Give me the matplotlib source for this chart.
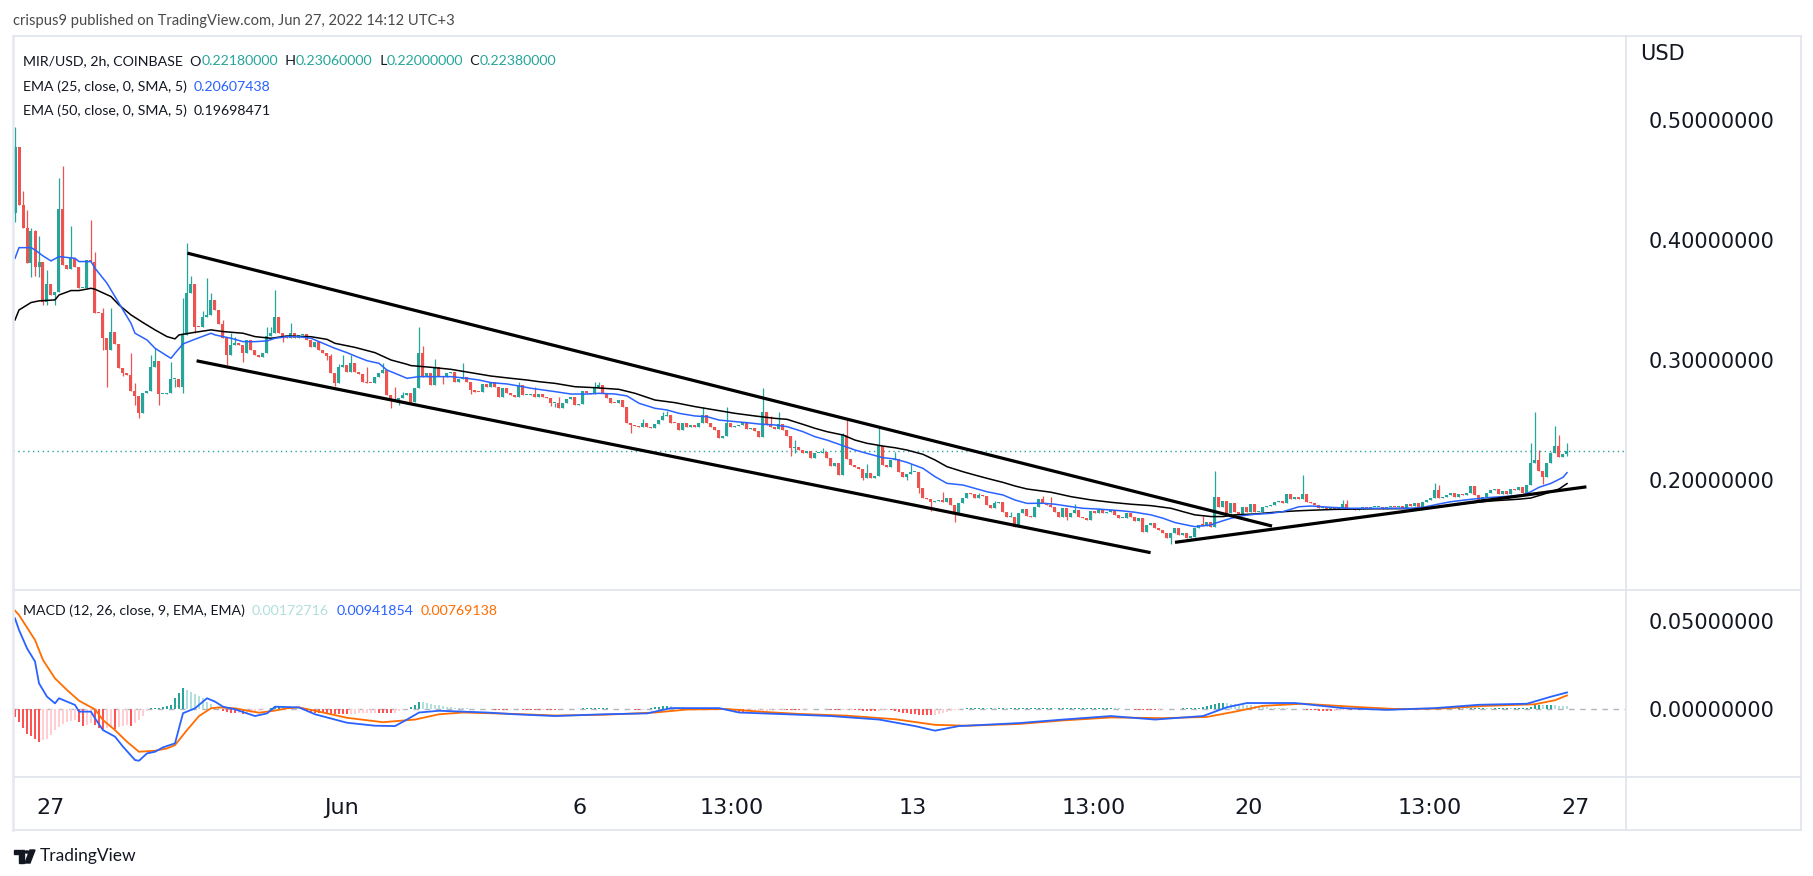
import matplotlib
matplotlib.use("Agg")
import matplotlib.pyplot as plt
from matplotlib.lines import Line2D
from matplotlib.patches import Polygon, Circle
import numpy as np

# ---------------- DATA ----------------
first_open = 0.4225
close_w1 = [.4780, .4294, .4100, .3808, .4077, .3780, .3822, .3488, .3635, .3543,
            .3569, .4258, .3794, .3758, .3850, .3780, .3599, .3599, .3835, .3822,
            .3396, .3390, .3182, .3085, .3235, .3135, .2932, .2890, .2876, .2746,
            .2701, .2562, .2723, .2740, .2940, .2996, .2718, .2718, .2729, .2840,
            .2840, .2774, .3210, .3557, .3635, .3279, .3274, .3357, .3377, .3502,
            .3418, .3302, .3182, .3043, .3127, .3140, .3127, .3057, .3168, .3085,
            .3040, .3029, .3057]
close_w2 = [.3201, .3223, .3357, .3229, .3201, .3182, .3223, .3182, .3210, .3218,
            .3168, .3112, .3154, .3084, .3056, .3034, .2890, .2806, .2940, .2960,
            .2904, .2973, .2904, .2884, .2820, .2812, .2806, .2862, .2895, .2918,
            .2709, .2667, .2662, .2681, .2709, .2723, .2653, .2765, .3056, .2862,
            .2895, .2792, .2940, .2867, .2862, .2889, .2904, .2820,
            .2840, .2862, .2820, .2751, .2737, .2731, .2801, .2773, .2820, .2778, .2695,
            .2765, .2723, .2709, .2695, .2792, .2709]
close_w3 = [.2709, .2718, .2695, .2717, .2689, .2681, .2640, .2645, .2598, .2645,
            .2673, .2695, .2626, .2634, .2745, .2723, .2717, .2765, .2792, .2723,
            .2681, .2645, .2640, .2667, .2612, .2478, .2459, .2450, .2439, .2473,
            .2445, .2431, .2464, .2500, .2534, .2542, .2478, .2473, .2417, .2478,
            .2445, .2459, .2445, .2478, .2542, .2478, .2439, .2417, .2348, .2367,
            .2473, .2439, .2450, .2459, .2486, .2422, .2431, .2411, .2356, .2570,
            .2459, .2445, .2422, .2464]
close_w4 = [.2417, .2369, .2264, .2278, .2250, .2222, .2242, .2186, .2222, .2228,
            .2236, .2186, .2119, .2139, .2041, .2375, .2175, .2125, .2111, .2091,
            .2014, .2055, .2019, .2036, .2283, .2125, .2111, .2167, .2175, .2064,
            .2028, .2047, .2064, .2064, .1930, .1847, .1841, .1819, .1825, .1833,
            .1819, .1847, .1791, .1722, .1805, .1847, .1894, .1880, .1847, .1875,
            .1866, .1791, .1769, .1805, .1819, .1736, .1694, .1694, .1611, .1722,
            .1758, .1702, .1694, .1777]
close_w5 = [.1842, .1806, .1792, .1778, .1736, .1695, .1770, .1695, .1722, .1750,
            .1695, .1681, .1667, .1742, .1722, .1750, .1722, .1736, .1750, .1709,
            .1686, .1686, .1722, .1695, .1659, .1686, .1564, .1625, .1639, .1603,
            .1584, .1556, .1514, .1556, .1597, .1542, .1556, .1520, .1528, .1597,
            .1625, .1620, .1653, .1611, .1861, .1778, .1825, .1722, .1806, .1736,
            .1714, .1778, .1736, .1798, .1731, .1731, .1778, .1785, .1790, .1820,
            .1825, .1806, .1881]
close_w6 = [.1839, .1861, .1839, .1883, .1819, .1805, .1791, .1764, .1772, .1755,
            .1768, .1758, .1766, .1800, .1755, .1760, .1750, .1762, .1768, .1764,
            .1772, .1775, .1777, .1760, .1772, .1783, .1772, .1783, .1764, .1800,
            .1783, .1805, .1778, .1819, .1833, .1847, .1916, .1847, .1861, .1872,
            .1889, .1861, .1883, .1878, .1890, .1950, .1875, .1827, .1855, .1889,
            .1916, .1922, .1883, .1911, .1883, .1922, .1916, .1944, .1889, .1958,
            .2139, .2167, .2078, .2028, .2144, .2222, .2283, .2189, .2218, .2238]

# notable wick extremes {bar: price}
wick_high = {0: .4947, 1: .4780, 2: .4414, 3: .4250, 4: .4100, 5: .4086, 6: .4036, 7: .3820,
             8: .3752, 11: .4517, 12: .4620, 14: .4119, 19: .4169, 20: .3905, 22: .3432,
             24: .3432, 29: .3057, 30: .2807, 34: .3043, 35: .3099, 39: .2987, 42: .3516,
             43: .3974, 44: .3702, 47: .3413, 48: .3682, 49: .3557, 52: .3335, 54: .3224,
             55: .3196, 63: .3279, 64: .3279, 65: .3585, 66: .3357, 69: .3307, 79: .3050,
             81: .2968, 82: .3043, 84: .3043, 88: .2940, 92: .2979, 95: .2778, 97: .2737,
             101: .3279, 102: .3118, 105: .3007, 112: .2973, 126: .2820, 130: .2778,
             136: .2695, 145: .2820, 146: .2820, 157: .2506, 162: .2570, 163: .2578,
             172: .2606, 178: .2606, 187: .2765, 189: .2534, 191: .2570, 195: .2333,
             202: .2264, 207: .2389, 208: .2500, 213: .2130, 216: .2436, 220: .2236,
             224: .2130, 232: .1900, 241: .1889, 245: .1825, 249: .1736, 257: .1870,
             259: .1861, 265: .1798, 271: .1770, 297: .1703, 300: .2076, 322: .2042,
             332: .1833, 333: .1833, 355: .1972, 356: .1958, 379: .2311, 380: .2570,
             381: .2250, 384: .2236, 385: .2450, 386: .2375, 388: .2306}
wick_low = {0: .4155, 4: .3690, 5: .3700, 6: .3696, 7: .3460, 8: .3460, 10: .3460, 22: .3085,
            23: .2779, 27: .2868, 30: .2626, 31: .2521, 32: .2557, 36: .2626, 40: .2774,
            42: .2723, 45: .3224, 53: .2960, 57: .2987, 67: .3148, 78: .3000, 80: .2780,
            94: .2598, 96: .2625, 107: .2800, 114: .2717, 134: .2617, 135: .2612,
            154: .2395, 194: .2203, 195: .2222, 212: .2003, 223: .2000, 226: .1889,
            229: .1741, 235: .1652, 263: .1667, 289: .1464, 293: .1514, 382: .1966,
            388: .2200}

# EMA 25 (blue): bar index, value
ema25_bar = [0, 1, 4, 5, 7, 9, 11, 15, 16, 19, 20, 23, 25, 27, 29, 30, 33, 35, 38, 39, 40, 42,
             45, 49, 50, 54, 57, 60, 63, 65, 68, 71, 74, 78, 80, 83, 85, 88, 91, 93, 96, 98,
             101, 104, 109, 113, 116, 119, 123, 126, 129, 135, 139, 143, 146, 150, 153, 156,
             160, 163, 166, 170, 173, 176, 180, 183, 186, 190, 193, 197, 200, 203, 207, 210,
             213, 217, 220, 223, 227, 230, 233, 237, 240, 243, 247, 250, 253, 257, 260, 264,
             267, 270, 274, 277, 280, 284, 287, 290, 294, 295, 299, 300, 304, 307, 310, 314,
             317, 321, 324, 329, 334, 339, 344, 349, 352, 356, 359, 364, 369, 374, 377, 379,
             381, 384, 387, 388]
ema25_val = [.3849, .3938, .3938, .3919, .3869, .3827, .3863, .3849, .3822, .3822, .3766, .3641,
             .3530, .3418, .3307, .3224, .3168, .3099, .3035, .3015, .3057, .3135, .3174, .3224,
             .3210, .3182, .3154, .3154, .3160, .3182, .3195, .3195, .3182, .3126, .3098, .3062,
             .3034, .2995, .2973, .2917, .2876, .2848, .2862, .2862, .2862, .2848, .2834, .2812,
             .2801, .2784, .2765, .2737, .2717, .2717, .2723, .2717, .2701, .2640, .2598, .2584,
             .2556, .2534, .2528, .2500, .2487, .2478, .2467, .2459, .2445, .2403, .2361, .2333,
             .2286, .2250, .2222, .2186, .2175, .2147, .2097, .2028, .1972, .1958, .1930, .1902,
             .1875, .1833, .1805, .1806, .1798, .1778, .1764, .1759, .1750, .1742, .1731, .1709,
             .1681, .1645, .1617, .1611, .1625, .1639, .1681, .1703, .1714, .1722, .1736, .1777,
             .1783, .1772, .1764, .1764, .1764, .1764, .1772, .1800, .1819, .1839, .1855, .1866,
             .1875, .1903, .1939, .1972, .2022, .2061]

# EMA 50 (black)
ema50_bar = [0, 1, 4, 6, 10, 11, 14, 16, 19, 20, 24, 26, 29, 32, 35, 38, 40, 41, 45, 49, 52, 57,
             60, 64, 68, 74, 78, 80, 85, 90, 94, 98, 99, 104, 109, 114, 119, 124, 128, 131, 135,
             140, 145, 151, 155, 160, 165, 170, 175, 180, 185, 190, 193, 197, 200, 203, 207, 210,
             213, 217, 220, 223, 227, 230, 233, 237, 240, 243, 247, 250, 253, 259, 264, 269, 274,
             279, 284, 289, 292, 295, 299, 302, 305, 310, 315, 319, 322, 330, 340, 350, 354, 359,
             364, 369, 376, 379, 382, 386, 388]
ema50_val = [.3335, .3418, .3480, .3494, .3502, .3543, .3580, .3580, .3599, .3591, .3530, .3460,
             .3377, .3313, .3252, .3196, .3177, .3210, .3232, .3252, .3238, .3224, .3196, .3182,
             .3201, .3195, .3173, .3140, .3106, .3062, .3001, .2965, .2954, .2940, .2923, .2895,
             .2867, .2848, .2834, .2820, .2806, .2778, .2770, .2756, .2723, .2667, .2645, .2612,
             .2584, .2556, .2534, .2514, .2506, .2464, .2431, .2403, .2375, .2333, .2306, .2283,
             .2269, .2250, .2214, .2167, .2111, .2069, .2041, .2014, .1980, .1950, .1925, .1898,
             .1861, .1834, .1814, .1798, .1786, .1764, .1736, .1709, .1695, .1695, .1709, .1717,
             .1731, .1740, .1745, .1755, .1760, .1762, .1770, .1790, .1810, .1825, .1840, .1850,
             .1880, .1925, .1970]

# trend-line drawings: (bar, price) end points
channel_top = [(43.1, .3892), (314.25, .1616)]
channel_bottom = [(45.4, .2994), (283.9, .1394)]
support_line = [(290.0, .1480), (392.85, .1943)]
last_close = 0.2238

# MACD line (blue) and signal (orange)
macd_bar = [0, 1, 3, 5, 6, 8, 10, 11, 13, 15, 16, 19, 20, 22, 25, 27, 30, 31, 33, 35, 37, 40,
            42, 45, 48, 50, 52, 55, 60, 63, 65, 71, 75, 83, 90, 95, 98, 101, 106, 112, 118, 125,
            135, 147, 158, 164, 176, 181, 193, 204, 216, 225, 230, 236, 251, 262, 274, 285, 297,
            303, 308, 320, 332, 343, 355, 366, 378, 384, 388]
macd_val = [.0515, .0449, .0345, .0270, .0146, .0070, .0032, .0061, .0042, .0023, -.0015, -.0015,
            -.0053, -.0120, -.0157, -.0214, -.0290, -.0294, -.0252, -.0243, -.0218, -.0195,
            -.0024, .0004, .0061, .0042, .0013, -.0002, -.0040, -.0025, .0013, .0009, -.0030,
            -.0078, -.0095, -.0097, -.0060, -.0020, -.0010, -.0015, -.0020, -.0030, -.0040,
            -.0030, -.0025, .0005, .0005, -.0020, -.0030, -.0040, -.0060, -.0097, -.0123,
            -.0097, -.0080, -.0060, -.0040, -.0060, -.0040, .0010, .0034, .0034, .0005, -.0005,
            .0005, .0024, .0030, .0070, .0094]
signal_bar = [0, 1, 5, 7, 10, 13, 16, 20, 22, 25, 28, 31, 35, 38, 40, 43, 46, 49, 51, 55, 58,
              61, 65, 68, 71, 75, 83, 92, 100, 106, 112, 125, 135, 147, 160, 168, 178, 186, 196,
              208, 220, 230, 238, 251, 262, 274, 287, 298, 305, 312, 322, 335, 345, 356, 368,
              380, 385, 388]
signal_val = [.0559, .0534, .0392, .0278, .0174, .0108, .0047, -.0002, -.0063, -.0120, -.0186,
              -.0243, -.0237, -.0224, -.0205, -.0120, -.0040, .0004, .0009, .0004, -.0009, -.0021,
              -.0009, .0004, .0009, -.0010, -.0050, -.0075, -.0060, -.0030, -.0020, -.0028,
              -.0037, -.0033, -.0020, -.0003, .0000, -.0015, -.0028, -.0038, -.0058, -.0090,
              -.0095, -.0085, -.0065, -.0048, -.0052, -.0045, -.0015, .0018, .0030, .0012, .0000,
              .0002, .0018, .0027, .0050, .0077]

# MACD histogram, one value per bar
hist_w1 = [-.0045, -.0074, -.0106, -.0144, -.0153, -.0168, -.0187, -.0178, -.0168, -.0150,
           -.0121, -.0102, -.0085, -.0075, -.0068, -.0060, -.0075, -.0095, -.0090, -.0080,
           -.0090, -.0110, -.0112, -.0110, -.0105, -.0112, -.0100, -.0095, -.0090, -.0095,
           -.0080, -.0060, -.0040, -.0010, .0003, .0005, .0008, .0012, .0018, .0025,
           .0060, .0093, .0118, .0108, .0098, .0085, .0074, .0060, .0042, .0028,
           .0013, .0004, -.0010, -.0015, -.0020, -.0025, -.0020, -.0030, -.0025, -.0020,
           -.0015]
hist_w2 = [-.0010, -.0005, .0000, .0008, .0015, .0016, .0012, .0008, .0005, .0002,
           .0000, -.0008, -.0014, -.0018, -.0020, -.0022, -.0024, -.0026, -.0027, -.0028,
           -.0028, -.0028, -.0028, -.0027, -.0026, -.0025, -.0024, -.0023, -.0022, -.0021,
           -.0021, -.0021, -.0022, -.0022, -.0021, -.0012, -.0004, .0002, .0012, .0025,
           .0040, .0038, .0034, .0030, .0025, .0020, .0016, .0012, .0010, .0007,
           .0005, .0004, .0003, .0002, .0001, .0000, -.0001, -.0002, -.0002, -.0003,
           -.0003, -.0003, -.0003, -.0002, -.0002]
hist_w3 = [-.0002, -.0003, -.0004, -.0004, -.0004, -.0004, -.0003, -.0003, -.0003, -.0003,
           -.0002, -.0001, .0000, .0001, .0002, .0002, .0003, .0003, .0003, .0003, .0003, .0003,
           .0003, .0002, .0002, .0001, .0000, -.0001, -.0002, -.0003, -.0004, -.0003, -.0001,
           .0004, .0010, .0014, .0016, .0016, .0015, .0013, .0011, .0009, .0008, .0007, .0006,
           .0005, .0004, .0003, .0002, .0001, .0000, -.0004, -.0008, -.0012, -.0015, -.0017,
           -.0017, -.0016, -.0015, -.0014, -.0013, -.0012, -.0010, -.0008, -.0006]
hist_w4 = [-.0004, -.0003, -.0003, -.0004, -.0005, -.0005, -.0004, -.0003, -.0002, -.0002,
           -.0002, -.0002, -.0002, -.0003, -.0005, -.0007, -.0006, -.0005, -.0004, -.0006,
           -.0008, -.0010, -.0011, -.0012, -.0012,
           -.0010, -.0008, -.0006, -.0008, -.0012, -.0016, -.0020, -.0024, -.0027, -.0030,
           -.0032, -.0033, -.0034, -.0034, -.0033, -.0030, -.0025, -.0019, -.0013, -.0008,
           -.0004, .0000, .0003, .0005, .0006,
           .0007, .0007, .0006, .0006, .0005, .0005, .0005, .0004, .0004, .0005, .0005, .0005,
           .0005, .0005, .0005, .0006, .0006, .0006, .0006, .0005, .0005, .0005]
hist_w5 = [.0005, .0006, .0007, .0008, .0008, .0008, .0008, .0008, .0008, .0008, .0008, .0008,
           .0006, .0004, .0002, .0000, -.0002, -.0004, -.0005, -.0007, -.0008, -.0008, -.0008,
           -.0006, -.0004, -.0002, -.0001, .0001, .0002, .0003, .0004, .0005, .0006, .0007,
           .0009, .0015, .0020, .0030,
           .0032, .0033, .0032, .0030, .0028, .0026, .0024, .0022, .0020, .0017, .0014, .0012,
           .0010, .0008, .0006, .0005, .0004, .0003, .0002, .0001]
hist_w6 = [.0000, -.0002, -.0004, -.0006, -.0008, -.0009, -.0010, -.0010, -.0010, -.0009,
           -.0008, -.0007, -.0006, -.0006, -.0005, -.0005, -.0004, -.0003, -.0002, -.0001,
           .0000, .0001, .0001, .0002, .0002,
           .0003, .0003, .0003, .0003, .0003, .0003, .0004, .0005, .0006, .0007, .0008, .0009,
           .0010, .0009, .0008, .0008, .0007, .0006, .0006, .0006, .0006, .0006, .0005, .0004,
           .0004, .0004, .0004, .0004, .0003, .0003, .0003, .0003, .0003, .0010, .0020, .0022,
           .0020, .0022, .0022, .0020, .0019, .0018, .0017]

time_tick_bar = [9, 81.75, 141.25, 179.25, 224.5, 269.75, 308.5, 353.75, 390.25]
time_tick_label = ["27", "Jun", "6", "13:00", "13", "13:00", "20", "13:00", "27"]
price_ticks = [0.2, 0.3, 0.4, 0.5]
macd_ticks = [0.0, 0.05]

# ---------------- STYLE / LAYOUT ----------------
W, H = 1813, 876
UP, DOWN = "#26A69A", "#EF5350"
TXT = "#131722"
BORDER = "#E0E3EB"

fig = plt.figure(figsize=(W / 100, H / 100), dpi=100)
fig.patch.set_facecolor("white")

L, R = 13, 1626
ax = fig.add_axes([L / W, 1 - 590 / H, (R - L) / W, (590 - 36) / H])
axm = fig.add_axes([L / W, 1 - 777 / H, (R - L) / W, (777 - 590) / H])
xlim = (-0.5, 402.75)
for a in (ax, axm):
    a.set_xlim(*xlim)
    a.set_facecolor("white")
    for s in a.spines.values():
        s.set_visible(False)
ax.set_ylim(0.2 - 110 / 1199, 0.2 + 444 / 1199)
axm.set_ylim(-68 / 1760, 119 / 1760)

# candles
close = np.array(close_w1 + close_w2 + close_w3 + close_w4 + close_w5 + close_w6)
n = len(close)
bars = np.arange(n)
opn = np.concatenate([[first_open], close[:-1]])
hi = np.maximum(opn, close)
lo = np.minimum(opn, close)
for k, v in wick_high.items():
    hi[k] = max(hi[k], v)
for k, v in wick_low.items():
    lo[k] = min(lo[k], v)
up = close >= opn
cols = np.where(up, UP, DOWN)
ax.vlines(bars, lo, hi, colors=cols, lw=0.9, zorder=3)
body_h = np.maximum(np.abs(close - opn), 0.0009)
ax.bar(bars, body_h, bottom=np.minimum(opn, close), width=0.75, color=cols, linewidth=0, zorder=4)

# EMAs
ax.plot(ema50_bar, ema50_val, color="#000000", lw=1.1, zorder=5)
ax.plot(ema25_bar, ema25_val, color="#2962FF", lw=1.1, zorder=5)

# drawings
for seg in (channel_top, channel_bottom, support_line):
    xs, ys = zip(*seg)
    ax.plot(xs, ys, color="black", lw=2.3, solid_capstyle="butt", zorder=6)
ax.axhline(last_close, color=UP, lw=1.0, ls=(0, (1, 2.5)), zorder=2)

# MACD pane
hist = np.array(hist_w1 + hist_w2 + hist_w3 + hist_w4 + hist_w5 + hist_w6)
hb = np.arange(len(hist))
prev = np.concatenate([[hist[0]], hist[:-1]])
hcol = np.where(hist >= 0, np.where(hist >= prev, "#26A69A", "#B2DFDB"),
                np.where(hist <= prev, "#FF5252", "#FFCDD2"))
axm.bar(hb, hist, width=0.6, color=hcol, linewidth=0, zorder=2)
axm.axhline(0, color="#B2B5BE", lw=1, ls=(0, (4, 4)), zorder=1)
axm.plot(signal_bar, signal_val, color="#FF6D00", lw=1.3, zorder=4)
axm.plot(macd_bar, macd_val, color="#2962FF", lw=1.3, zorder=5)

# axes ticks / labels
ax.set_xticks([])
ax.yaxis.tick_right()
ax.set_yticks(price_ticks)
ax.set_yticklabels([f"{v:.8f}" for v in price_ticks])
ax.tick_params(axis="y", length=0, pad=16, labelsize=15, labelcolor=TXT)
axm.yaxis.tick_right()
axm.set_yticks(macd_ticks)
axm.set_yticklabels([f"{v:.8f}" for v in macd_ticks])
axm.tick_params(axis="y", length=0, pad=16, labelsize=15, labelcolor=TXT)
axm.set_xticks(time_tick_bar)
axm.set_xticklabels(time_tick_label)
axm.tick_params(axis="x", length=0, pad=15, labelsize=16, labelcolor=TXT)

# frame lines (figure pixels)
def hline(y, x0, x1, c=BORDER, lw=1.2):
    fig.add_artist(Line2D([x0 / W, x1 / W], [1 - y / H, 1 - y / H], color=c, lw=lw,
                          transform=fig.transFigure))

def vline(x, y0, y1, c=BORDER, lw=1.2):
    fig.add_artist(Line2D([x / W, x / W], [1 - y0 / H, 1 - y1 / H], color=c, lw=lw,
                          transform=fig.transFigure))

hline(36, 13, 1801)
hline(830, 13, 1801)
hline(590, 13, 1801)
hline(777, 13, 1801)
vline(13, 36, 830, c="#E6E8F0", lw=1.8)
vline(1801, 36, 830)
vline(1626, 36, 830)

# texts
renderer = fig.canvas.get_renderer()

def rich(x_px, y_px, parts, size=10.2, family="Lato"):
    x = x_px
    for s, c in parts:
        t = fig.text(x / W, 1 - y_px / H, s, color=c, fontsize=size, family=family,
                     ha="left", va="center")
        x += t.get_window_extent(renderer=renderer).width

rich(13, 21, [("crispus9 published on TradingView.com, Jun 27, 2022 14:12 UTC+3", "#4A4A4A")],
     size=10.6)
rich(23, 61, [("MIR/USD, 2h, COINBASE  O", TXT), ("0.22180000", UP), ("  H", TXT),
              ("0.23060000", UP), ("  L", TXT), ("0.22000000", UP), ("  C", TXT),
              ("0.22380000", UP)])
rich(23, 87, [("EMA (25, close, 0, SMA, 5)  ", TXT), ("0.20607438", "#2962FF")])
rich(23, 111, [("EMA (50, close, 0, SMA, 5)  ", TXT), ("0.19698471", TXT)])
rich(23, 611, [("MACD (12, 26, close, 9, EMA, EMA)  ", TXT), ("0.00172716", "#B2DFDB"),
               ("  ", TXT), ("0.00941854", "#2962FF"), ("  ", TXT), ("0.00769138", "#FF6D00")])
fig.text(1640 / W, 1 - 54 / H, "USD", fontsize=15, color=TXT, ha="left", va="center")

# TradingView watermark logo
def P(x, y):
    return (x / W, 1 - y / H)

fig.add_artist(Polygon([P(14, 850), P(24, 850), P(24, 863), P(19, 863), P(19, 854), P(14, 854)],
                       closed=True, color=TXT, transform=fig.transFigure))
fig.add_artist(Circle(P(27, 852), 2.2 / W, color=TXT, transform=fig.transFigure))
fig.add_artist(Polygon([P(30, 850), P(35, 850), P(30, 863), P(25, 863)], closed=True,
                       color=TXT, transform=fig.transFigure))
fig.text(40 / W, 1 - 856 / H, "TradingView", fontsize=12.5, family="Lato", color=TXT,
         ha="left", va="center")

fig.savefig("out.png", dpi=100, facecolor="white")
